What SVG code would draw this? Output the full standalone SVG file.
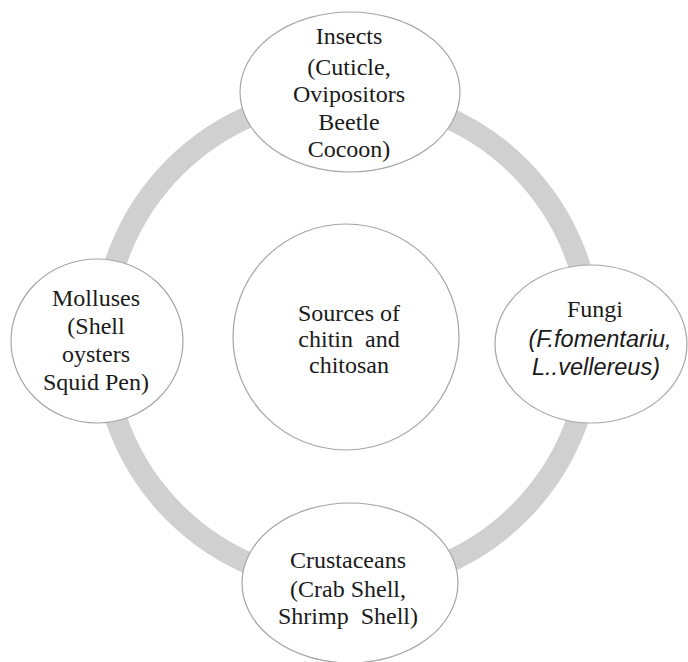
<svg xmlns="http://www.w3.org/2000/svg" width="688" height="662" viewBox="0 0 688 662">
<style>
.node{fill:#fff;stroke:#a6a6a6;stroke-width:1.2}
.t{font-family:"Liberation Serif","Times New Roman",serif;font-size:24px;fill:#1a1a1a;text-anchor:middle}
.ti{font-family:"Liberation Sans",Arial,sans-serif;font-style:italic;font-size:23.5px;fill:#1a1a1a;text-anchor:middle}
.ring{fill:none;stroke:#d0d0d0;stroke-width:22}
</style>
<rect width="688" height="662" fill="#fff"/>
<g id="connectors">
<circle class="ring" cx="347" cy="340" r="244"/>
</g>
<g id="center">
<circle class="node" cx="346" cy="337" r="113"/>
<text class="t" x="349" y="321">Sources of</text>
<text class="t" x="349" y="347" xml:space="preserve">chitin  and</text>
<text class="t" x="349" y="373">chitosan</text>
</g>
<g id="insects">
<ellipse class="node" cx="350" cy="92" rx="110" ry="80"/>
<text class="t" x="349" y="44">Insects</text>
<text class="t" x="349" y="75">(Cuticle,</text>
<text class="t" x="349" y="102">Ovipositors</text>
<text class="t" x="349" y="130">Beetle</text>
<text class="t" x="349" y="157">Cocoon)</text>
</g>
<g id="fungi">
<ellipse class="node" cx="591" cy="344" rx="96" ry="79"/>
<text class="t" x="595" y="317">Fungi</text>
<text class="ti" x="600" y="347">(F.fomentariu,</text>
<text class="ti" x="596" y="375">L..vellereus)</text>
</g>
<g id="molluses">
<ellipse class="node" cx="97" cy="341" rx="86" ry="82"/>
<text class="t" x="96" y="306">Molluses</text>
<text class="t" x="96" y="334">(Shell</text>
<text class="t" x="96" y="362">oysters</text>
<text class="t" x="96" y="390">Squid Pen)</text>
</g>
<g id="crustaceans">
<ellipse class="node" cx="350" cy="583" rx="108" ry="80"/>
<text class="t" x="348" y="568">Crustaceans</text>
<text class="t" x="348" y="597">(Crab Shell,</text>
<text class="t" x="348" y="624" xml:space="preserve">Shrimp  Shell)</text>
</g>
</svg>
